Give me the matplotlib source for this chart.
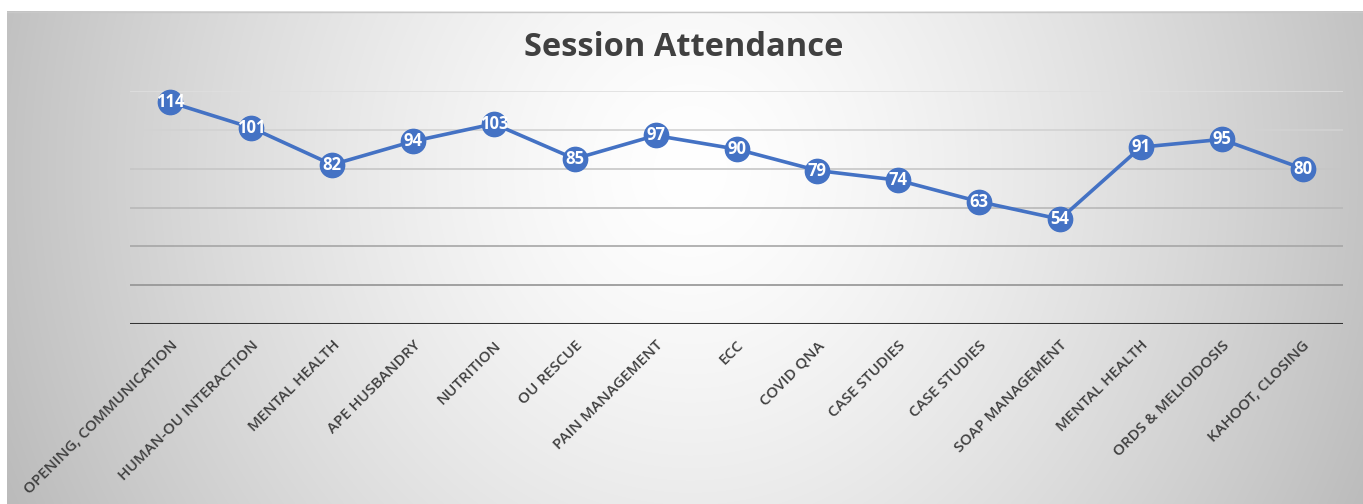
import matplotlib.pyplot as plt
import numpy as np

# data
sessions = [
    "OPENING, COMMUNICATION", "HUMAN-OU INTERACTION", "MENTAL HEALTH",
    "APE HUSBANDRY", "NUTRITION", "OU RESCUE", "PAIN MANAGEMENT", "ECC",
    "COVID QNA", "CASE STUDIES", "CASE STUDIES", "SOAP MANAGEMENT",
    "MENTAL HEALTH", "ORDS & MELIOIDOSIS", "KAHOOT, CLOSING",
]
attendance = [114, 101, 82, 94, 103, 85, 97, 90, 79, 74, 63, 54, 91, 95, 80]
grid_values = [20, 40, 60, 80, 100, 120]

W, H = 1363, 504
plt.rcParams["font.family"] = ["Open Sans", "DejaVu Sans"]

fig = plt.figure(figsize=(W / 100, H / 100), dpi=100)
fig.patch.set_facecolor("white")

# ── gradient panel ──────────────────────────────────────────────────────────
left_px, top_px = 7, 11
bg = fig.add_axes([left_px / W, 0, 1 - left_px / W, (H - top_px) / H])
xx, yy = np.meshgrid(np.arange(left_px, W), np.arange(top_px, H))
r = np.sqrt(((xx - 690) / 700.0) ** 2 + ((yy - 170) / 750.0) ** 2)
shade = np.clip(255 - 62 * r ** 1.4, 0, 255) / 255.0
bg.imshow(np.dstack([shade, shade, shade]), aspect="auto", interpolation="bilinear")
bg.axhline(0, color="#c8c8c8", linewidth=1.0)
bg.set_axis_off()

# ── plot area ───────────────────────────────────────────────────────────────
x0, x1 = 130, 1343
y_base, y_top = 324.3, 90.7
ax = fig.add_axes([x0 / W, (H - y_base) / H, (x1 - x0) / W, (y_base - y_top) / H])
ax.patch.set_alpha(0)
ax.set_xlim(-0.5, len(sessions) - 0.5)
ax.set_ylim(0, 120)

grid_colors = ["#939393", "#a6a6a6", "#b8b8b8", "#c6c6c6", "#d2d2d2", "#dfdfdf"]
for gv, gc in zip(grid_values, grid_colors):
    ax.axhline(gv, color=gc, linewidth=1.2, zorder=1)
ax.axhline(0, color="#333333", linewidth=2.2, zorder=2)

for s in ax.spines.values():
    s.set_visible(False)
ax.set_yticks([])

x = np.arange(len(sessions))
ax.plot(x, attendance, color="#4472C4", linewidth=2.6, marker="o",
        markersize=17.5, markerfacecolor="#4472C4", markeredgecolor="#4472C4",
        clip_on=False, zorder=3)

for xi, v in zip(x, attendance):
    ax.text(xi, v, str(v), ha="center", va="center", color="white",
            fontsize=12, fontweight="bold", zorder=4)

ax.set_xticks(x)
ax.set_xticklabels(sessions, rotation=45, ha="right", rotation_mode="anchor",
                   fontsize=11, fontweight="semibold", color="#404040")
ax.tick_params(axis="x", length=0, pad=10)

fig.text(684 / W, 1 - 47 / H, "Session Attendance", ha="center", va="center",
         fontsize=23.5, fontweight="bold", color="#404040")

fig.savefig("out.png", dpi=100)
